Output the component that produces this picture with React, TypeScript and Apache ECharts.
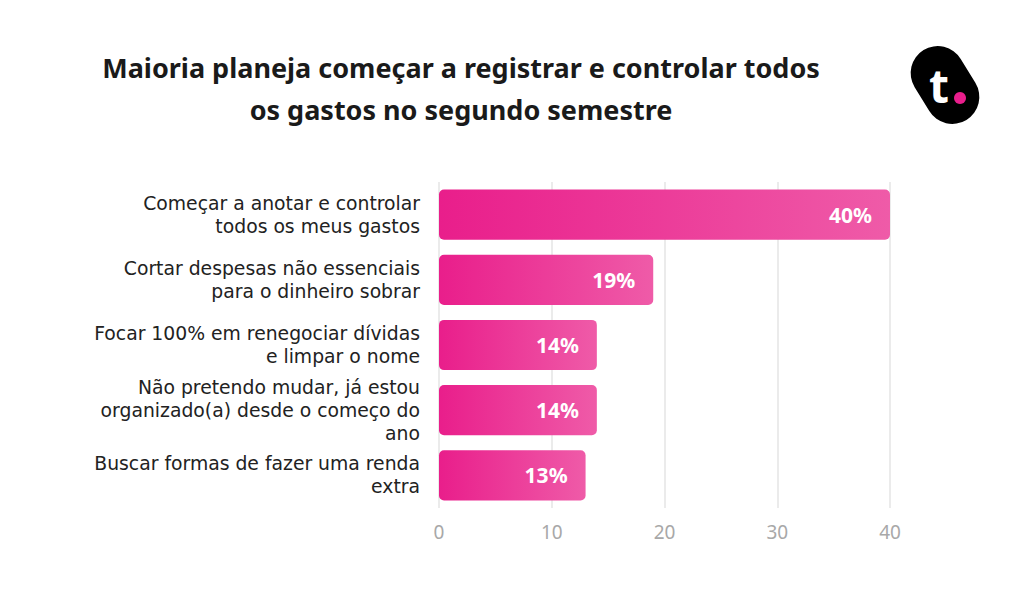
import React, { useEffect, useRef } from "react";
import * as echarts from "echarts";

const categories = [
  "Começar a anotar e controlar\ntodos os meus gastos",
  "Cortar despesas não essenciais\npara o dinheiro sobrar",
  "Focar 100% em renegociar dívidas\ne limpar o nome",
  "Não pretendo mudar, já estou\norganizado(a) desde o começo do\nano",
  "Buscar formas de fazer uma renda\nextra",
];
const values = [40, 19, 14, 14, 13];
const titleText = "Maioria planeja começar a registrar e controlar todos\nos gastos no segundo semestre";
const FONT = "'Noto Sans', sans-serif";
const LABEL_FONT = "'DejaVu Sans', sans-serif";

export default function App() {
  const ref = useRef<HTMLDivElement>(null);
  useEffect(() => {
    const chart = echarts.init(ref.current!, null, { renderer: "svg" });
    chart.setOption({
      animation: false,
      backgroundColor: "#ffffff",
      title: {
        text: titleText,
        left: 456,
        top: 41,
        textAlign: "center",
        textStyle: {
          fontFamily: FONT,
          fontSize: 27,
          fontWeight: "bold",
          color: "#1a1a1a",
          lineHeight: 42,
        },
      },
      graphic: [
        {
          type: "group",
          x: 945,
          y: 85,
          rotation: 0.55,
          children: [
            {
              type: "rect",
              shape: { x: -27, y: -41, width: 54, height: 82, r: 27 },
              style: { fill: "#000000" },
            },
          ],
        },
        {
          type: "text",
          x: 939,
          y: 85,
          style: {
            text: "t",
            fill: "#ffffff",
            font: "bold 46px " + FONT,
            align: "center",
            verticalAlign: "middle",
          },
        },
        {
          type: "circle",
          shape: { cx: 960, cy: 98, r: 6 },
          style: { fill: "#e91e8c" },
        },
      ],
      grid: { left: 439, right: 134, top: 182, bottom: 97 },
      xAxis: {
        type: "value",
        min: 0,
        max: 40,
        interval: 10,
        axisLine: { show: false },
        axisTick: { show: false },
        splitLine: { show: true, lineStyle: { color: "#ebebeb", width: 2 } },
        axisLabel: {
          color: "#a8a8a8",
          fontFamily: FONT,
          fontSize: 19,
          margin: 14,
        },
      },
      yAxis: {
        type: "category",
        inverse: true,
        data: categories,
        axisLine: { show: false },
        axisTick: { show: false },
        axisLabel: {
          color: "#222222",
          fontFamily: LABEL_FONT,
          fontSize: 18.8,
          lineHeight: 23,
          margin: 19,
          align: "right",
        },
      },
      series: [
        {
          type: "bar",
          data: values,
          barCategoryGap: "23%",
          itemStyle: {
            borderRadius: 5,
            color: new echarts.graphic.LinearGradient(0, 0, 1, 0, [
              { offset: 0, color: "#e91e8b" },
              { offset: 1, color: "#ef5ba8" },
            ]),
          },
          label: {
            show: true,
            position: "insideRight",
            distance: 18,
            formatter: "{c}%",
            color: "#ffffff",
            fontFamily: FONT,
            fontSize: 21,
            fontWeight: "bold",
          },
        },
      ],
    });
    return () => chart.dispose();
  }, []);
  return <div ref={ref} style={{ width: 1024, height: 605, margin: -8 }} />;
}
